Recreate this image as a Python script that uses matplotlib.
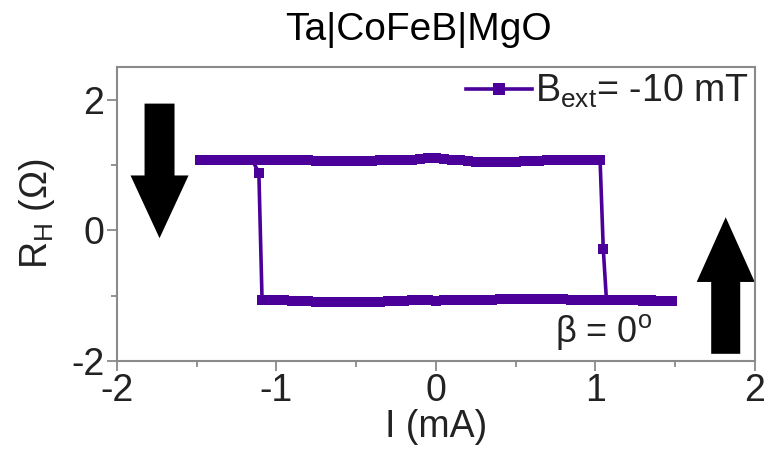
import matplotlib
matplotlib.use("Agg")
import matplotlib.pyplot as plt
from matplotlib.patches import FancyArrow
from matplotlib.ticker import MultipleLocator

plt.rcParams["font.family"] = ["Liberation Sans", "DejaVu Sans"]
plt.rcParams["mathtext.fontset"] = "custom"
plt.rcParams["mathtext.rm"] = "Liberation Sans"
plt.rcParams["mathtext.it"] = "Liberation Sans:italic"
plt.rcParams["axes.unicode_minus"] = False

LOOP_COLOR = "#4b0099"
AXIS_GRAY = "#8a8a8a"
TEXT_COLOR = "#222222"

# current sweep from -1.5 mA up to +1.5 mA
I_up = [-1.48, -1.45, -1.40, -1.35, -1.30, -1.25, -1.20, -1.15, -1.10,
        -1.05, -1.00, -0.95, -0.90, -0.85, -0.80, -0.75, -0.70, -0.65, -0.60, -0.55,
        -0.50, -0.45, -0.40, -0.35, -0.30, -0.25, -0.20, -0.15, -0.10, -0.05,
        0.00, 0.05, 0.10, 0.15, 0.20, 0.25, 0.30, 0.35, 0.40, 0.45,
        0.50, 0.55, 0.60, 0.65, 0.70, 0.75, 0.80, 0.85, 0.90, 0.95, 1.00,
        1.03, 1.05, 1.07,
        1.10, 1.15, 1.20, 1.25, 1.30, 1.35, 1.40, 1.45, 1.48]
R_up = [1.07, 1.07, 1.07, 1.08, 1.08, 1.08, 1.08, 1.08, 1.07,
        1.07, 1.07, 1.07, 1.08, 1.07, 1.07, 1.06, 1.06, 1.06, 1.06, 1.06,
        1.06, 1.06, 1.06, 1.07, 1.07, 1.07, 1.08, 1.08, 1.09, 1.10,
        1.10, 1.09, 1.08, 1.07, 1.06, 1.05, 1.05, 1.04, 1.04, 1.05,
        1.05, 1.06, 1.06, 1.06, 1.07, 1.07, 1.07, 1.08, 1.08, 1.08, 1.08,
        1.08, -0.28, -1.07,
        -1.07, -1.07, -1.07, -1.07, -1.08, -1.08, -1.08, -1.08, -1.08]

# return sweep from +1.5 mA down to -1.5 mA
I_down = [1.48, 1.45, 1.40, 1.35, 1.30, 1.25, 1.20, 1.15, 1.10,
          1.05, 1.00, 0.95, 0.90, 0.85, 0.80, 0.75, 0.70, 0.65, 0.60, 0.55,
          0.50, 0.45, 0.40, 0.35, 0.30, 0.25, 0.20, 0.15, 0.10, 0.05,
          0.00, -0.05, -0.10, -0.15, -0.20, -0.25, -0.30, -0.35, -0.40, -0.45,
          -0.50, -0.55, -0.60, -0.65, -0.70, -0.75, -0.80, -0.85, -0.90, -0.95, -1.00, -1.05,
          -1.09, -1.11, -1.15,
          -1.20, -1.25, -1.30, -1.35, -1.40, -1.45, -1.48]
R_down = [-1.08, -1.08, -1.08, -1.07, -1.07, -1.07, -1.07, -1.07, -1.07,
          -1.07, -1.06, -1.06, -1.06, -1.06, -1.05, -1.05, -1.05, -1.05, -1.05, -1.05,
          -1.05, -1.05, -1.05, -1.06, -1.06, -1.06, -1.07, -1.07, -1.07, -1.07,
          -1.08, -1.07, -1.07, -1.07, -1.08, -1.08, -1.08, -1.09, -1.09, -1.10,
          -1.10, -1.10, -1.10, -1.10, -1.09, -1.09, -1.08, -1.08, -1.08, -1.07, -1.07, -1.07,
          -1.07, 0.88, 1.07,
          1.08, 1.08, 1.08, 1.08, 1.07, 1.07, 1.07]

fig = plt.figure(figsize=(7.67, 4.55), dpi=100)
ax = fig.add_axes([0.1525, 0.2066, 0.8315, 0.6461])

ax.plot(I_up, R_up, "-s", color=LOOP_COLOR, lw=2.6, ms=6.5, mew=0,
        label=r"B$_\mathregular{ext}$= -10 mT")
ax.plot(I_down, R_down, "-s", color=LOOP_COLOR, lw=2.6, ms=6.5, mew=0)

# magnetisation direction arrows
ax.add_patch(FancyArrow(-1.733, 1.94, 0, -2.06, width=0.188, head_width=0.364,
                        head_length=0.96, length_includes_head=True,
                        color="black", lw=0, clip_on=False))
ax.add_patch(FancyArrow(1.818, -1.89, 0, 2.09, width=0.182, head_width=0.364,
                        head_length=0.99, length_includes_head=True,
                        color="black", lw=0, clip_on=False))

ax.set_xlim(-2, 2)
ax.set_ylim(-2, 2.5)
ax.xaxis.set_major_locator(MultipleLocator(1))
ax.xaxis.set_minor_locator(MultipleLocator(0.5))
ax.set_yticks([-2, 0, 2])
ax.set_yticks([-1, 1], minor=True)

for side in ax.spines.values():
    side.set_color(AXIS_GRAY)
    side.set_linewidth(1.5)
ax.tick_params(which="major", direction="out", length=7, width=1.3,
               color=AXIS_GRAY, labelsize=27, labelcolor=TEXT_COLOR, pad=2)
ax.tick_params(which="minor", direction="out", length=4, width=1.3, color=AXIS_GRAY)

ax.set_xlabel("I (mA)", fontsize=27, color=TEXT_COLOR, labelpad=0)
ax.set_ylabel(r"R$_\mathregular{H}$ ($\Omega$)", fontsize=27, color=TEXT_COLOR, labelpad=10)

ax.text(1.05, -1.55, "β = 0$^\\mathregular{o}$", fontsize=26,
        color=TEXT_COLOR, ha="center", va="center")

ax.legend(loc="upper right", frameon=False, fontsize=27, handlelength=1.75,
          handletextpad=0.1, borderaxespad=0.05, borderpad=0.1, numpoints=1,
          labelcolor=TEXT_COLOR, markerscale=1.3)

fig.text(0.545, 0.935, "Ta|CoFeB|MgO", fontsize=28, color="black",
         ha="center", va="center")

fig.savefig("out.png", dpi=100)
plt.close(fig)
